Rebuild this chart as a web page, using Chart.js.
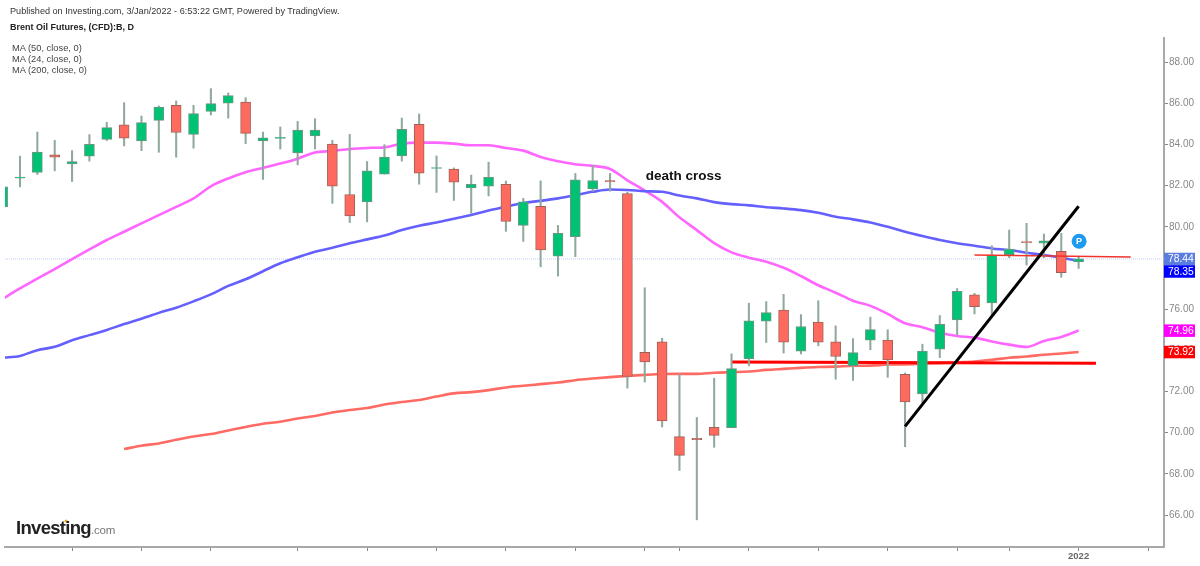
<!DOCTYPE html>
<html><head><meta charset="utf-8">
<style>
html,body{margin:0;padding:0;background:#fff;width:1200px;height:566px;overflow:hidden;font-family:"Liberation Sans",Arial,sans-serif}
canvas{position:absolute;left:0;top:0}
.t{position:absolute;white-space:nowrap;line-height:12px}
</style>
<script src="https://cdn.jsdelivr.net/npm/chart.js@4"></script>
</head><body>
<canvas id="c" width="1200" height="566"></canvas>
<div class="t" style="left:10px;top:5px;font-size:9.12px;color:#333">Published on Investing.com, 3/Jan/2022 - 6:53:22 GMT, Powered by TradingView.</div>
<div class="t" style="left:10px;top:21px;font-size:9px;font-weight:bold;color:#222">Brent Oil Futures, (CFD):B, D</div>
<div class="t" style="left:12px;top:42px;font-size:9.3px;color:#444">MA (50, close, 0)</div>
<div class="t" style="left:12px;top:53px;font-size:9.3px;color:#444">MA (24, close, 0)</div>
<div class="t" style="left:12px;top:64px;font-size:9.3px;color:#444">MA (200, close, 0)</div>
<div class="t" style="left:16px;top:518px;line-height:20px;font-size:18.5px;font-weight:bold;color:#222;letter-spacing:-.7px">Investing<span style="font-size:11.5px;font-weight:normal;color:#777;letter-spacing:-.2px">.com</span></div>
<script>
const open=[80.97,82.36,82.64,83.49,83.05,83.43,84.25,84.95,84.17,85.17,85.90,84.49,85.61,86.01,86.06,84.17,84.29,83.59,84.41,84.02,81.57,81.21,82.56,83.44,84.98,82.83,82.80,81.89,81.97,82.06,80.07,80.99,78.57,79.52,81.84,82.24,81.62,73.91,74.41,69.81,69.73,70.26,70.24,73.60,75.42,75.96,73.96,75.37,74.41,73.26,74.50,74.50,72.83,71.88,74.06,75.48,76.70,76.31,78.64,79.28,79.20,78.81,78.29];
const close=[81.94,82.42,83.63,83.38,83.17,84.00,84.82,84.30,85.06,85.82,84.58,85.50,85.98,86.37,84.54,84.32,84.35,84.70,84.70,81.97,80.53,82.72,83.39,84.74,82.60,82.88,82.17,82.06,82.40,80.26,81.21,78.88,79.68,82.28,82.25,82.19,72.73,73.44,70.57,68.90,69.66,69.87,73.11,75.43,75.83,74.40,75.16,74.40,73.70,73.89,75.01,73.54,71.50,73.96,75.27,76.87,76.12,78.61,78.92,79.23,79.32,77.77,78.44];
const high=[82.2,83.43,84.60,84.20,83.70,84.48,85.08,86.03,85.38,85.87,86.11,85.90,86.71,86.50,86.27,84.60,84.85,85.12,85.25,84.20,84.49,83.17,83.99,85.28,85.48,83.44,82.86,82.51,83.14,82.22,81.38,82.23,80.07,82.59,82.98,82.59,81.68,77.04,74.59,72.86,70.74,72.65,73.83,76.29,76.37,76.72,75.74,76.41,75.19,74.57,75.61,75.00,72.90,74.30,75.69,77.00,76.77,79.08,79.84,80.17,79.65,79.68,78.52];
const low=[80.6,81.94,82.54,82.72,82.20,83.19,84.19,83.93,83.70,83.62,83.38,83.82,85.43,85.28,84.04,82.30,83.78,83.01,83.78,81.14,80.21,80.24,82.56,83.19,82.07,81.67,81.28,80.65,81.50,79.78,79.29,78.06,77.61,78.55,81.73,81.73,72.17,72.46,70.28,68.17,65.77,69.29,70.24,73.25,74.38,73.87,73.83,74.22,72.60,72.54,74.03,72.69,69.32,71.44,73.65,74.75,75.77,75.64,78.50,78.14,78.50,77.55,77.98];
const ma50=[73.64,73.73,74.01,74.17,74.49,74.74,74.99,75.28,75.54,75.82,76.07,76.38,76.72,77.13,77.45,77.84,78.23,78.52,78.79,78.98,79.20,79.39,79.58,79.84,80.05,80.21,80.39,80.57,80.79,80.97,81.16,81.26,81.38,81.54,81.70,81.81,81.79,81.73,81.70,81.52,81.38,81.20,81.10,81.04,80.95,80.89,80.81,80.68,80.49,80.36,80.21,80.00,79.76,79.55,79.36,79.20,79.08,78.95,78.87,78.74,78.63,78.50,78.35];
const ma24=[76.50,77.01,77.48,77.95,78.43,78.90,79.36,79.76,80.17,80.57,80.97,81.38,81.97,82.35,82.65,82.86,83.07,83.31,83.61,83.68,83.78,83.83,83.86,84.04,84.09,84.09,84.04,83.96,83.96,83.83,83.70,83.39,83.18,83.04,82.96,82.81,82.26,81.76,81.21,80.46,79.84,79.21,78.76,78.50,78.30,78.01,77.61,77.16,76.80,76.41,76.16,75.77,75.32,75.12,74.86,74.70,74.62,74.43,74.28,74.17,74.46,74.65,74.96];
const ma200=[null,null,null,null,null,null,null,69.21,69.37,69.48,69.66,69.82,69.94,70.11,70.28,70.44,70.53,70.69,70.81,70.98,71.10,71.20,71.37,71.49,71.59,71.76,71.91,71.97,72.07,72.20,72.28,72.36,72.44,72.55,72.63,72.70,72.76,72.81,72.85,72.86,72.86,72.91,72.94,72.97,73.05,73.10,73.15,73.19,73.21,73.25,73.26,73.31,73.32,73.35,73.38,73.42,73.46,73.54,73.64,73.70,73.79,73.85,73.92];
const xTicks=[4,8,12,17,21,25,29,33,37,39,43,47,51,55,58,62,66];
const yTicks=[66,68,70,72,74,76,78,80,82,84,86,88];
const yearTick=62, yearLabel='2022';
const lastPrice=78.44;
const trendLine=[[52,70.31],[62,81.0]];
const supportLine=[[42,73.43],[63,73.38]];
const resistLine=[[56,78.63],[65,78.53]];
const priceBoxes=[[78.44,'#5b7de0','78.44'],[78.35,'#0000ff','78.35'],[74.96,'#ff00ff','74.96'],[73.92,'#ff0000','73.92']];
const note={text:'death cross',x:37,y:82.45};
const badge={text:'P',x:62,y:79.3};

const GREEN='#00c274',RED='#ff6a5e',GB='#6f9684',RB='#a0605a',WICK='#8fa99c';
const xy=a=>a.map(p=>({x:p[0],y:p[1]}));
const ser=a=>a.map((v,i)=>({x:i,y:v}));
const xMin=0.136,xMax=66.92;

const overlay={id:'overlay',afterDraw(ch){
  const c=ch.ctx,X=ch.scales.x,Y=ch.scales.y;
  c.save();
  c.fillStyle='#111';c.font='bold 13.5px "Liberation Sans"';c.textBaseline='middle';c.textAlign='left';
  c.fillText(note.text,X.getPixelForValue(note.x)+1,Y.getPixelForValue(note.y));
  const bx=X.getPixelForValue(badge.x)+.5,by=Y.getPixelForValue(badge.y);
  c.fillStyle='#1e9bf0';c.beginPath();c.arc(bx,by,7.5,0,Math.PI*2);c.fill();
  c.fillStyle='#fff';c.font='bold 9px "Liberation Sans"';c.textAlign='center';c.fillText(badge.text,bx,by+.5);
  c.fillStyle='#f5a623';c.beginPath();c.arc(66,521,1.5,0,Math.PI*2);c.fill();
  let prev=-99;
  for(const [v,col,t] of priceBoxes){
    let y=Y.getPixelForValue(v); if(y-prev<12.5) y=prev+12.5; prev=y;
    c.fillStyle=col;c.fillRect(1164,y-6.2,31,12.5);
    c.fillStyle='#fff';c.font='10.3px "Liberation Sans"';c.textAlign='left';c.textBaseline='middle';
    c.fillText(t,1168,y+.5);
  }
  c.restore();
}};

const lineDs=(label,data,color,w,order,extra)=>Object.assign({type:'line',label,data,borderColor:color,borderWidth:w,pointRadius:0,tension:0,fill:false,order,spanGaps:false},extra||{});
const smooth={cubicInterpolationMode:'monotone'};
new Chart(document.getElementById('c'),{
  type:'bar',
  data:{datasets:[
    lineDs('Price',[{x:xMin,y:lastPrice},{x:xMax,y:lastPrice}],'#bccbf5',1,8,{borderDash:[1,1]}),
    lineDs('MA 200',ser(ma200),'#ff6a63',2.6,7,smooth),
    lineDs('MA 24',ser(ma24),'#ff66ff',2.6,6,smooth),
    lineDs('MA 50',ser(ma50),'#6460ff',2.6,5,smooth),
    lineDs('Support',xy(supportLine),'#ff0000',3,4),
    {label:'Wick',data:high.map((h,i)=>({x:i,y:[low[i],h]})),backgroundColor:WICK,barThickness:1.4,grouped:false,order:3},
    {label:'Body',data:open.map((o,i)=>({x:i,y:[o,close[i]]})),
      backgroundColor:open.map((o,i)=>close[i]>=o?GREEN:RED),
      borderColor:open.map((o,i)=>close[i]>=o?GB:RB),borderWidth:1,borderSkipped:false,barThickness:10,grouped:false,order:2},
    lineDs('Resistance',xy(resistLine),'#f0332c',1.5,1),
    lineDs('Trend',xy(trendLine),'#000000',3,0)
  ]},
  options:{
    responsive:false,animation:false,events:[],
    layout:{padding:{left:5,top:38,right:0,bottom:0}},
    plugins:{legend:{display:false},tooltip:{enabled:false}},
    scales:{
      x:{type:'linear',offset:false,min:xMin,max:xMax,
        afterBuildTicks:s=>{s.ticks=xTicks.map(v=>({value:v}));},
        afterFit:s=>{s.height=19;},
        border:{color:'#a8a8a8',width:2},
        grid:{offset:false,drawOnChartArea:false,tickLength:4,tickColor:'#888'},
        ticks:{autoSkip:false,maxRotation:0,padding:0,color:'#666',font:{family:'Liberation Sans',size:9.5,weight:'bold'},
          callback:v=>v===yearTick?yearLabel:''}},
      y:{type:'linear',position:'right',min:64.45,max:89.17,
        afterBuildTicks:s=>{s.ticks=yTicks.map(v=>({value:v}));},
        afterFit:s=>{s.width=36;},
        border:{color:'#a8a8a8',width:2},
        grid:{drawOnChartArea:false,tickLength:4,tickColor:'#888'},
        ticks:{autoSkip:false,padding:1,color:'#888',font:{family:'Liberation Sans',size:10},callback:v=>v.toFixed(2)}}
    }
  },
  plugins:[overlay]
});
</script>
</body></html>
